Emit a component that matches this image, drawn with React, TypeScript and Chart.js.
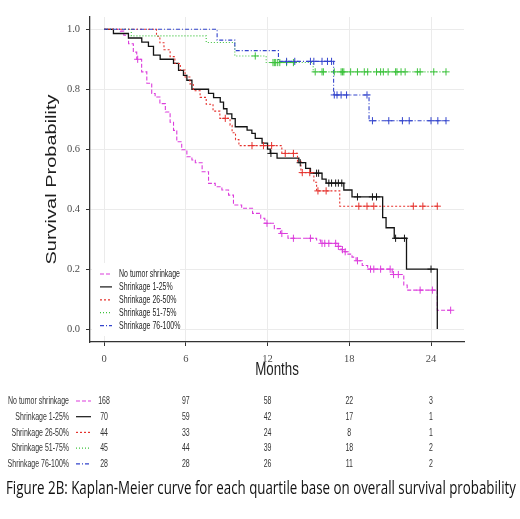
import React, { useEffect, useRef } from "react";
import { Chart, registerables } from "chart.js";
Chart.register(...registerables);

const groupNames = ["No tumor shrinkage", "Shrinkage 1-25%", "Shrinkage 26-50%", "Shrinkage 51-75%", "Shrinkage 76-100%"];
const groupColors = ["#dc3ddc", "#141414", "#e5322d", "#3cc23c", "#3344cc"];
const groupDashes = [[4, 2], [], [2, 2], [1, 2], [4, 2, 1, 2]];

// No tumor shrinkage: event times (months) and survival after each event
const noneTimes = [1.2, 1.45, 1.8, 2.15, 2.4, 2.76, 3.14, 3.5, 3.75, 4.1, 4.5, 4.85, 5.1, 5.34, 5.7, 6.08, 6.45, 6.7, 7.2, 7.67, 8.16, 8.65, 9.14, 9.5, 10.1, 10.9, 11.5, 11.8, 12.5, 12.95, 13.5, 15.6, 15.9, 17.1, 17.4, 17.65, 17.9, 18.2, 18.5, 18.95, 19.35, 21.15, 22.0, 22.25, 24.46];
const noneSurv = [0.994, 0.98, 0.952, 0.924, 0.9, 0.858, 0.82, 0.786, 0.774, 0.752, 0.724, 0.69, 0.663, 0.625, 0.598, 0.575, 0.564, 0.555, 0.525, 0.486, 0.475, 0.464, 0.447, 0.414, 0.403, 0.386, 0.37, 0.353, 0.335, 0.319, 0.303, 0.297, 0.286, 0.276, 0.265, 0.258, 0.25, 0.24, 0.228, 0.212, 0.2, 0.182, 0.147, 0.13, 0.063];
const noneCensor = [2.47, 11.96, 13.05, 13.9, 15.15, 16.0, 16.2, 16.5, 17.0, 17.2, 17.5, 17.7, 18.6, 19.56, 19.8, 20.3, 21.0, 21.25, 21.6, 23.2, 24.1, 25.44];
const noneEnd = 25.44;

// Shrinkage 1-25%
const s1Times = [0.69, 1.79, 2.77, 3.26, 3.63, 4.12, 5.1, 5.47, 5.83, 6.08, 6.45, 7.67, 8.04, 8.53, 8.77, 9.02, 9.38, 9.63, 10.5, 10.85, 11.1, 11.6, 12.0, 12.2, 12.7, 14.3, 14.8, 15.15, 16.0, 16.3, 17.6, 18.2, 20.45, 20.7, 21.3, 22.2, 24.46];
const s1Surv = [0.986, 0.971, 0.957, 0.943, 0.914, 0.9, 0.886, 0.863, 0.846, 0.83, 0.8, 0.786, 0.772, 0.757, 0.735, 0.718, 0.702, 0.675, 0.664, 0.653, 0.636, 0.62, 0.6, 0.586, 0.57, 0.555, 0.536, 0.52, 0.5, 0.487, 0.464, 0.441, 0.372, 0.338, 0.303, 0.2, 0.0];
const s1Censor = [12.25, 14.4, 15.6, 15.75, 16.5, 16.7, 17.0, 17.2, 17.45, 18.6, 19.7, 20.0, 21.4, 22.05, 24.0];
const s1End = 24.46;

// Shrinkage 26-50%
const s2Times = [3.85, 4.1, 4.4, 4.85, 5.2, 5.6, 5.95, 6.3, 6.55, 7.05, 7.5, 8.0, 8.5, 9.25, 9.4, 9.65, 9.9, 13.05, 14.2, 14.45, 15.4, 15.6, 17.3];
const s2Surv = [0.977, 0.955, 0.932, 0.909, 0.886, 0.864, 0.841, 0.818, 0.795, 0.773, 0.75, 0.727, 0.703, 0.68, 0.655, 0.632, 0.612, 0.586, 0.56, 0.522, 0.49, 0.461, 0.41];
const s2Censor = [8.9, 10.86, 11.7, 12.3, 13.3, 13.9, 14.55, 15.1, 15.7, 16.3, 18.7, 19.3, 19.8, 22.7, 23.4, 24.46];
const s2End = 24.46;

// Shrinkage 51-75%
const s3Times = [2.0, 7.5, 9.6, 11.9, 15.35];
const s3Surv = [0.978, 0.956, 0.911, 0.889, 0.858];
const s3Censor = [11.1, 12.4, 12.5, 12.6, 12.75, 12.9, 13.4, 13.9, 15.5, 16.0, 16.1, 16.9, 17.4, 17.5, 17.6, 18.1, 18.6, 19.1, 19.35, 20.0, 20.3, 20.5, 20.85, 21.4, 21.5, 21.8, 22.1, 23.0, 23.2, 24.2, 25.1];
const s3End = 25.1;

// Shrinkage 76-100%
const s4Times = [8.3, 9.6, 12.8, 16.85, 19.45];
const s4Surv = [0.964, 0.929, 0.893, 0.781, 0.695];
const s4Censor = [13.4, 14.0, 15.15, 15.4, 16.0, 16.4, 16.7, 16.9, 17.1, 17.4, 17.8, 19.3, 19.7, 20.9, 21.9, 22.4, 24.0, 24.5, 25.1];
const s4End = 25.1;

// Numbers at risk
const riskTimes = [0, 6, 12, 18, 24];
const riskNone = [168, 97, 58, 22, 3];
const riskS1 = [70, 59, 42, 17, 1];
const riskS2 = [44, 33, 24, 8, 1];
const riskS3 = [45, 44, 39, 18, 2];
const riskS4 = [28, 28, 26, 11, 2];

const xTickStep = 6;
const yTickStep = 0.2;
const X_MIN = -1.03;
const X_MAX = 26.42;
const Y_MIN = -0.043;
const Y_MAX = 1.041;

const yTitle = "Survival Probability";
const xTitle = "Months";
const caption = "Figure 2B: Kaplan-Meier curve for each quartile base on overall survival probability";

const groups = [
  { times: noneTimes, surv: noneSurv, censor: noneCensor, end: noneEnd, risk: riskNone },
  { times: s1Times, surv: s1Surv, censor: s1Censor, end: s1End, risk: riskS1 },
  { times: s2Times, surv: s2Surv, censor: s2Censor, end: s2End, risk: riskS2 },
  { times: s3Times, surv: s3Surv, censor: s3Censor, end: s3End, risk: riskS3 },
  { times: s4Times, surv: s4Surv, censor: s4Censor, end: s4End, risk: riskS4 },
];

function survAt(times: number[], surv: number[], t: number) {
  let s = 1;
  for (let i = 0; i < times.length; i++) {
    if (times[i] <= t) s = surv[i];
  }
  return s;
}

function sqText(ctx: CanvasRenderingContext2D, text: string, x: number, y: number, sx: number, align: CanvasTextAlign) {
  ctx.save();
  ctx.translate(x, y);
  ctx.scale(sx, 1);
  ctx.textAlign = align;
  ctx.fillText(text, 0, 0);
  ctx.restore();
}

function drawSample(ctx: CanvasRenderingContext2D, i: number, x0: number, x1: number, y: number) {
  ctx.save();
  ctx.strokeStyle = groupColors[i];
  ctx.lineWidth = 1.2;
  ctx.setLineDash(groupDashes[i]);
  ctx.beginPath();
  ctx.moveTo(x0, y);
  ctx.lineTo(x1, y);
  ctx.stroke();
  ctx.restore();
}

const decorPlugin = {
  id: "decor",
  afterDraw(chart: any) {
    const ctx: CanvasRenderingContext2D = chart.ctx;
    const xs = chart.scales.x;
    const area = chart.chartArea;
    ctx.save();
    ctx.fillStyle = "#1e1e1e";
    ctx.textBaseline = "middle";

    // Y title
    ctx.save();
    ctx.font = "20px 'Liberation Sans'";
    ctx.translate(52, (area.top + area.bottom) / 2);
    ctx.rotate(-Math.PI / 2);
    ctx.scale(1, 0.75);
    ctx.textAlign = "center";
    ctx.fillText(yTitle, 0, 0);
    ctx.restore();

    // X title
    ctx.font = "18px 'Liberation Sans'";
    sqText(ctx, xTitle, (area.left + area.right) / 2, 370, 0.74, "center");

    // Legend inside plot
    ctx.font = "11.5px 'Liberation Sans'";
    const sx = 61 / ctx.measureText(groupNames[0]).width;
    ctx.fillStyle = "#ffffff";
    ctx.fillRect(area.left + 2, 263, 88, 73);
    ctx.fillStyle = "#1e1e1e";
    for (let i = 0; i < groupNames.length; i++) {
      const y = 274 + i * 12.9;
      drawSample(ctx, i, 100, 112, y);
      sqText(ctx, groupNames[i], 119, y, sx, "left");
    }

    // Risk table
    ctx.fillStyle = "#333333";
    for (let i = 0; i < groups.length; i++) {
      const y = 401 + i * 15.7;
      sqText(ctx, groupNames[i], 69, y, sx, "right");
      drawSample(ctx, i, 76, 91, y);
      for (let j = 0; j < riskTimes.length; j++) {
        sqText(ctx, String(groups[i].risk[j]), xs.getPixelForValue(riskTimes[j]), y, sx, "center");
      }
    }

    // Caption
    ctx.fillStyle = "#111111";
    ctx.font = "17.5px 'Open Sans'";
    ctx.textBaseline = "alphabetic";
    const cw = ctx.measureText(caption).width;
    sqText(ctx, caption, 6, 494, 510 / cw, "left");
    ctx.restore();
  },
};

export default function App() {
  const ref = useRef<HTMLCanvasElement | null>(null);
  useEffect(() => {
    if (!ref.current) return;
    const datasets: any[] = [];
    groups.forEach((g, i) => {
      const pts = [{ x: 0, y: 1 }];
      g.times.forEach((t, k) => pts.push({ x: t, y: g.surv[k] }));
      pts.push({ x: g.end, y: g.surv[g.surv.length - 1] });
      datasets.push({
        type: "line",
        label: groupNames[i],
        data: pts,
        borderColor: groupColors[i],
        borderWidth: i === 1 ? 1.3 : 1.1,
        borderDash: groupDashes[i],
        stepped: "before",
        pointRadius: 0,
        fill: false,
        order: 20 - i,
      });
      datasets.push({
        type: "scatter",
        label: groupNames[i] + " censored",
        data: g.censor.map((c) => ({ x: c, y: survAt(g.times, g.surv, c) })),
        pointStyle: "cross",
        pointRadius: 3.6,
        borderColor: groupColors[i],
        backgroundColor: groupColors[i],
        pointBorderWidth: 1,
        borderWidth: 1,
        showLine: false,
        order: 10 - i,
      });
    });
    const chart = new Chart(ref.current, {
      type: "scatter",
      data: { datasets },
      options: {
        animation: false,
        responsive: true,
        maintainAspectRatio: false,
        layout: { padding: { top: 17, right: 56, left: 0, bottom: 0 } },
        plugins: { legend: { display: false }, tooltip: { enabled: false } },
        scales: {
          x: {
            type: "linear",
            min: X_MIN,
            max: X_MAX,
            afterFit: (s: any) => {
              s.height = 177;
            },
            ticks: {
              stepSize: xTickStep,
              includeBounds: false,
              autoSkip: false,
              maxRotation: 0,
              padding: 7,
              color: "#4d4d4d",
              font: { family: "'Liberation Sans Narrow'", size: 10.5 },
              callback: (v: any) => String(v),
            },
            grid: { color: "#ebebeb", lineWidth: 1, tickLength: 4, tickColor: "#333333" },
            border: { color: "#333333", width: 1.3 },
          },
          y: {
            type: "linear",
            min: Y_MIN,
            max: Y_MAX,
            afterFit: (s: any) => {
              s.width = 90;
            },
            ticks: {
              stepSize: yTickStep,
              includeBounds: false,
              padding: 6,
              color: "#4d4d4d",
              font: { family: "'Liberation Sans Narrow'", size: 10.5 },
              callback: (v: any) => Number(v).toFixed(1),
            },
            grid: { color: "#ebebeb", lineWidth: 1, tickLength: 4, tickColor: "#333333" },
            border: { color: "#333333", width: 1.3 },
          },
        },
      },
      plugins: [decorPlugin],
    } as any);
    return () => chart.destroy();
  }, []);
  return (
    <div style={{ position: "fixed", left: 0, top: 0, width: 520, height: 519, background: "#ffffff" }}>
      <canvas ref={ref} />
    </div>
  );
}
